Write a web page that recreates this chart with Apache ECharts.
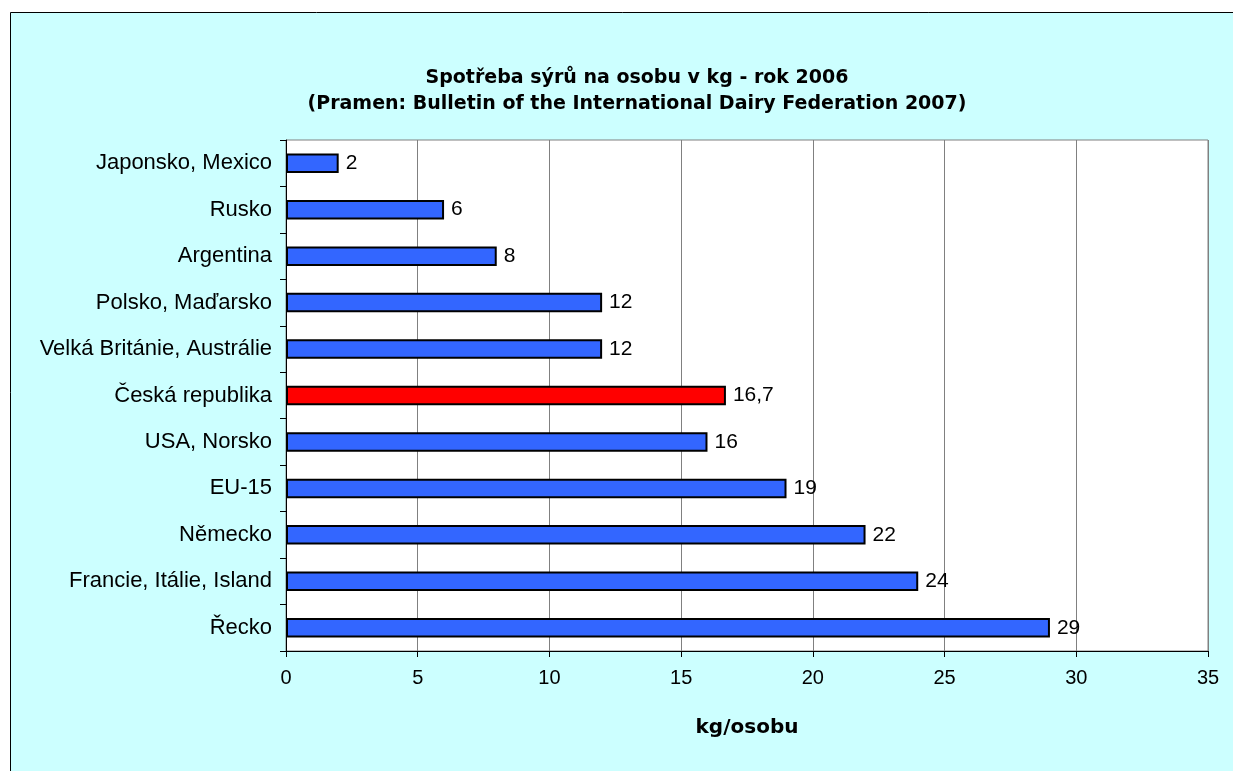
<!DOCTYPE html>
<html>
<head>
<meta charset="utf-8">
<script src="https://cdn.jsdelivr.net/npm/echarts@6/dist/echarts.min.js"></script>
<style>
  html, body { margin: 0; padding: 0; background: #fff; }
  #chart { width: 1233px; height: 771px; }
</style>
</head>
<body>
<div id="chart"></div>
<script>
// kategorie (shora dolů)
const countries = ['Japonsko, Mexico', 'Rusko', 'Argentina', 'Polsko, Maďarsko',
  'Velká Británie, Austrálie', 'Česká republika', 'USA, Norsko', 'EU-15',
  'Německo', 'Francie, Itálie, Island', 'Řecko'];
const consumption = [2, 6, 8, 12, 12, 16.7, 16, 19, 22, 24, 29];
const highlight = 'Česká republika';
const xTicks = [0, 5, 10, 15, 20, 25, 30, 35];

const chart = echarts.init(document.getElementById('chart'));

const option = {
  animation: false,
  backgroundColor: '#fff',
  graphic: [{
    type: 'rect',
    z: -10,
    shape: { x: 10.5, y: 12.5, width: 1240, height: 780 },
    style: { fill: '#CCFFFF', stroke: '#000', lineWidth: 1 }
  }],
  title: {
    text: 'Spotřeba sýrů na osobu v kg - rok 2006\n(Pramen: Bulletin of the International Dairy Federation 2007)',
    left: 632,
    top: 60,
    textAlign: 'center',
    textStyle: {
      fontFamily: 'DejaVu Sans',
      fontSize: 19,
      fontWeight: 'bold',
      color: '#000',
      lineHeight: 26
    }
  },
  grid: {
    left: 286,
    top: 140,
    width: 922,
    height: 511,
    show: true,
    backgroundColor: '#fff',
    borderColor: '#808080',
    borderWidth: 1
  },
  xAxis: {
    type: 'value',
    min: 0,
    max: 35,
    interval: 5,
    name: 'kg/osobu',
    nameLocation: 'middle',
    nameGap: 67,
    nameTextStyle: { fontFamily: 'DejaVu Sans', fontSize: 20, fontWeight: 'bold', color: '#000' },
    axisLine: { show: true, lineStyle: { color: '#000' } },
    axisTick: { show: true, inside: false, length: 6, lineStyle: { color: '#000' } },
    axisLabel: {
      fontFamily: 'Liberation Sans, Arial', fontSize: 20, color: '#000', margin: 17,
      formatter: v => xTicks.includes(v) ? String(v) : ''
    },
    splitLine: { show: true, lineStyle: { color: '#808080', width: 1 } }
  },
  yAxis: {
    type: 'category',
    data: countries,
    inverse: true,
    axisLine: { show: true, lineStyle: { color: '#000' } },
    axisTick: { show: true, inside: false, length: 6, lineStyle: { color: '#000' } },
    axisLabel: { fontFamily: 'Liberation Sans, Arial', fontSize: 22, color: '#000', margin: 14 },
    splitLine: { show: false }
  },
  series: [{
    type: 'bar',
    barWidth: '42%',
    data: consumption.map((v, i) => ({
      value: v,
      itemStyle: { color: countries[i] === highlight ? '#FF0000' : '#3366FF' }
    })),
    itemStyle: { borderColor: '#000', borderWidth: 2 },
    label: {
      show: true,
      position: 'right',
      distance: 7,
      fontFamily: 'Liberation Sans, Arial',
      fontSize: 21,
      color: '#000',
      formatter: p => String(p.value).replace('.', ',')
    }
  }]
};

chart.setOption(option);
</script>
</body>
</html>
